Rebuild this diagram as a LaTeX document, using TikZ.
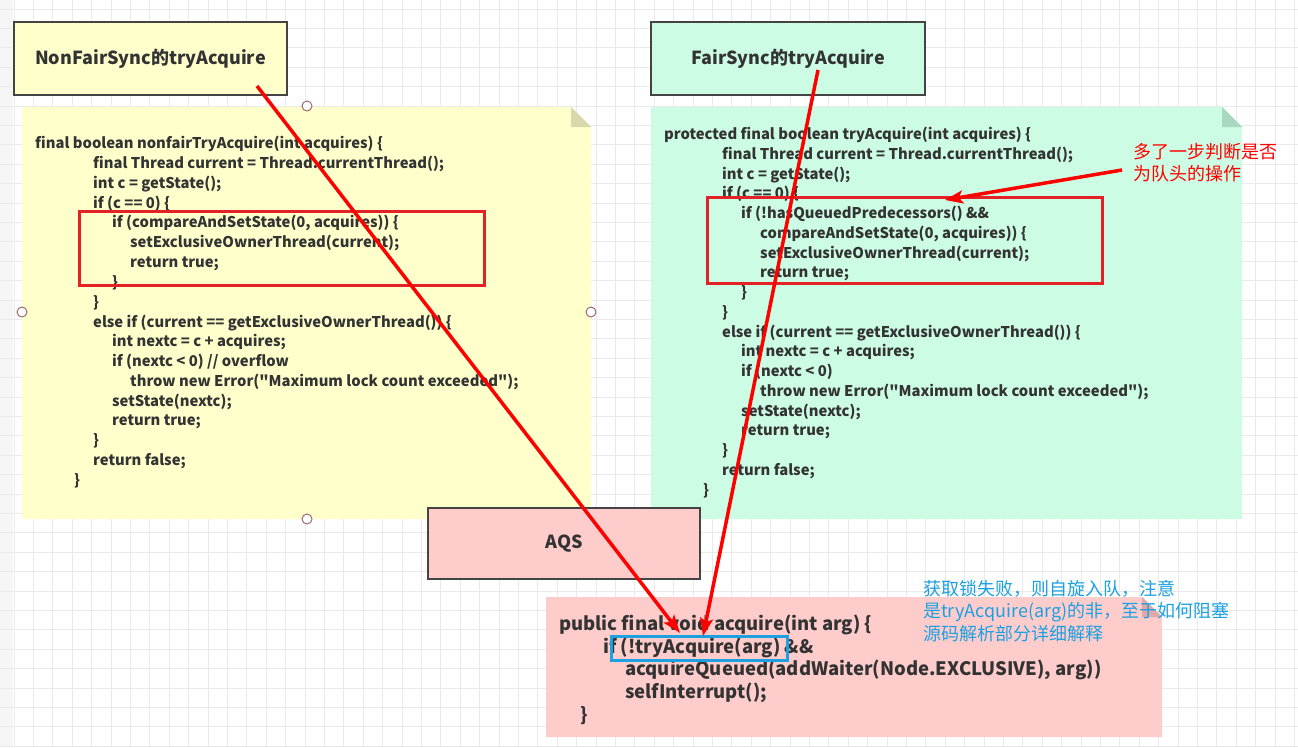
\documentclass[tikz,border=0pt]{standalone}
\usepackage{fontspec}
\setmainfont{Noto Sans CJK SC}
\newfontfamily\codefont{Noto Sans CJK SC}
\usetikzlibrary{arrows.meta}
\definecolor{gridc}{HTML}{EAEAEA}
\definecolor{yel}{HTML}{FFFFCC}
\definecolor{yelf}{HTML}{D8D8AC}
\definecolor{grn}{HTML}{CCFCE3}
\definecolor{grnf}{HTML}{A8D8C0}
\definecolor{pnk}{HTML}{FFCCCC}
\definecolor{pnkf}{HTML}{E0A8A8}
\definecolor{txt}{HTML}{333333}
\definecolor{bord}{HTML}{444444}
\definecolor{redc}{HTML}{FF0000}
\definecolor{redbox}{HTML}{E42126}
\definecolor{bluec}{HTML}{1BA1E2}
\definecolor{handle}{HTML}{A06870}
\tikzset{
  titlebox/.style={draw=bord, line width=2pt, inner sep=0pt, font=\fontsize{18}{22}\selectfont\bfseries, text=txt},
  codetxt/.style={anchor=base west, inner sep=0pt, font=\codefont\fontsize{14.8}{18}\selectfont\bfseries, text=txt},
  bigcode/.style={anchor=base west, inner sep=0pt, font=\codefont\fontsize{18.5}{22}\selectfont\bfseries, text=txt},
  hlbox/.style={draw=redbox, line width=3pt, inner sep=0pt},
  bluebox/.style={draw=bluec, line width=3pt, inner sep=0pt},
  redarrow/.style={draw=redc, line width=3.5pt, -{Stealth[length=18pt,width=13pt,inset=4pt]}},
  handlec/.style={circle, draw=handle, fill=white, line width=1pt, minimum size=10pt, inner sep=0pt},
  notered/.style={anchor=base west, inner sep=0pt, font=\fontsize{18}{22}\selectfont, text=redc},
  noteblue/.style={anchor=base west, inner sep=0pt, font=\fontsize{18}{22}\selectfont, text=bluec},
}
\newcommand\codeln[4]{\node[codetxt] (#1) at (#2,#3+5) {#4};}
\newcommand\bigln[4]{\node[bigcode] (#1) at (#2,#3+6.5) {#4};}
\begin{document}
\begin{tikzpicture}[x=1pt,y=-1pt]
\useasboundingbox (0,0) rectangle (1298,747);
\fill[white] (0,0) rectangle (1298,747);
\fill[gray!8] (0,0) rectangle (13,747);
\foreach \i in {0,...,66} {\draw[gridc, line width=1pt] (14+\i*19.4,0) -- (14+\i*19.4,747);}
\foreach \j in {0,...,38} {\draw[gridc, line width=1pt] (0,9+\j*19.4) -- (1298,9+\j*19.4);}

% yellow note
\fill[yel] (22,107) -- (571,107) -- (591,127) -- (591,519) -- (22,519) -- cycle;
\fill[yelf] (571,107) -- (571,127) -- (591,127) -- cycle;
% green note
\fill[grn] (651,107) -- (1222,107) -- (1242,127) -- (1242,519) -- (651,519) -- cycle;
\fill[grnf] (1222,107) -- (1222,127) -- (1242,127) -- cycle;

% titles
\node[titlebox, fill=yel, minimum width=273pt, minimum height=73pt] (nf) at (150.5,58.5) {NonFairSync的tryAcquire};
\node[titlebox, fill=grn, minimum width=274pt, minimum height=73pt] (fs) at (788,58.5) {FairSync的tryAcquire};

% yellow code
\codeln{y1}{35}{143}{final boolean nonfairTryAcquire(int acquires) \{}
\codeln{y2}{93}{163}{final Thread current = Thread.currentThread();}
\codeln{y3}{93}{183}{int c = getState();}
\codeln{y4}{93}{203}{if (c == 0) \{}
\codeln{y5}{112}{222}{if (compareAndSetState(0, acquires)) \{}
\codeln{y6}{130}{242}{setExclusiveOwnerThread(current);}
\codeln{y7}{130}{262}{return true;}
\codeln{y8}{112}{282}{\}}
\codeln{y9}{93}{302}{\}}
\codeln{y10}{93}{322}{else if (current == getExclusiveOwnerThread()) \{}
\codeln{y11}{112}{341}{int nextc = c + acquires;}
\codeln{y12}{112}{361}{if (nextc < 0) // overflow}
\codeln{y13}{130}{381}{throw new Error("Maximum lock count exceeded");}
\codeln{y14}{112}{401}{setState(nextc);}
\codeln{y15}{112}{420}{return true;}
\codeln{y16}{93}{440}{\}}
\codeln{y17}{93}{460}{return false;}
\codeln{y18}{74}{480}{\}}
\node[hlbox, minimum width=405pt, minimum height=74pt] (rb1) at (281.5,248) {};

% green code
\codeln{g1}{664}{134}{protected final boolean tryAcquire(int acquires) \{}
\codeln{g2}{722}{154}{final Thread current = Thread.currentThread();}
\codeln{g3}{722}{174}{int c = getState();}
\codeln{g4}{722}{193}{if (c == 0) \{}
\codeln{g5}{741}{213}{if (!hasQueuedPredecessors() \&\&}
\codeln{g6}{760}{233}{compareAndSetState(0, acquires)) \{}
\codeln{g7}{760}{253}{setExclusiveOwnerThread(current);}
\codeln{g8}{760}{272}{return true;}
\codeln{g9}{741}{292}{\}}
\codeln{g10}{722}{312}{\}}
\codeln{g11}{722}{332}{else if (current == getExclusiveOwnerThread()) \{}
\codeln{g12}{741}{351}{int nextc = c + acquires;}
\codeln{g13}{741}{371}{if (nextc < 0)}
\codeln{g14}{760}{391}{throw new Error("Maximum lock count exceeded");}
\codeln{g15}{741}{411}{setState(nextc);}
\codeln{g16}{741}{430}{return true;}
\codeln{g17}{722}{450}{\}}
\codeln{g18}{722}{470}{return false;}
\codeln{g19}{703}{490}{\}}
\node[hlbox, minimum width=395pt, minimum height=86pt] (rb2) at (904.5,240) {};

% red note
\node[notered] (rn1) at (1133,158.5) {多了一步判断是否};
\node[notered] (rn2) at (1133,180.5) {为队头的操作};

% handles
\node[handlec] (h1) at (307,106) {};
\node[handlec] (h2) at (22,312) {};
\node[handlec] (h3) at (591,312) {};
\node[handlec] (h4) at (307,519) {};

% AQS
\node[titlebox, fill=pnk, minimum width=272pt, minimum height=71pt] (aqs) at (564,543.5) {AQS};

% pink note
\fill[pnk] (546,597) -- (1142,597) -- (1162,617) -- (1162,737) -- (546,737) -- cycle;
\fill[pnkf] (1142,597) -- (1142,617) -- (1162,617) -- cycle;
\bigln{p1}{559}{624}{public final void acquire(int arg) \{}
\bigln{p2}{603}{647}{if (!tryAcquire(arg) \&\&}
\bigln{p3}{625}{669}{acquireQueued(addWaiter(Node.EXCLUSIVE), arg))}
\bigln{p4}{625}{692}{selfInterrupt();}
\bigln{p5}{580}{715}{\}}
\node[bluebox, minimum width=176pt, minimum height=24pt] (bb) at (699,648) {};

% blue note
\node[noteblue] (bn1) at (923,595.5) {获取锁失败，则自旋入队，注意};
\node[noteblue] (bn2) at (923,617.5) {是tryAcquire(arg)的非，至于如何阻塞};
\node[noteblue] (bn3) at (923,640.5) {源码解析部分详细解释};

% arrows
\coordinate (a1s) at (257,86);
\coordinate (a1e) at (680,633);
\coordinate (a2s) at (818,70);
\coordinate (a2e) at (703,636);
\coordinate (a3s) at (1122,170);
\coordinate (a3e) at (945,200);
\draw[redarrow] (a1s) -- (a1e);
\draw[redarrow] (a2s) -- (a2e);
\draw[redarrow] (a3s) -- (a3e);
\end{tikzpicture}
\end{document}
